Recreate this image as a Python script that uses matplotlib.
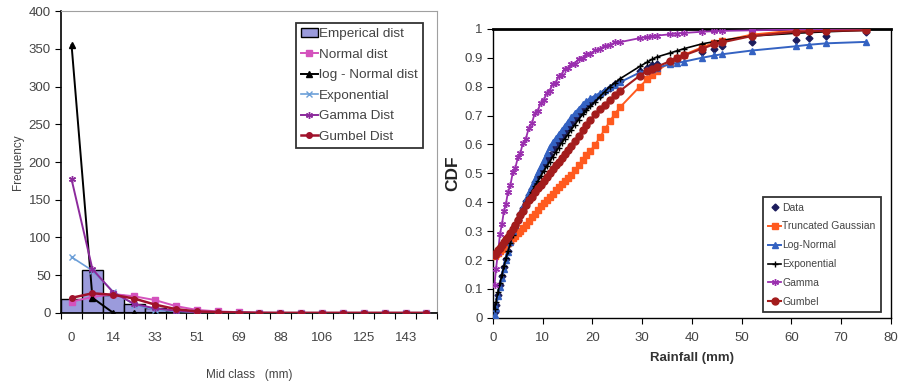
import matplotlib
matplotlib.use("Agg")
import matplotlib.pyplot as plt
from matplotlib.patches import Patch
from matplotlib.lines import Line2D
import numpy as np

plt.rcParams["font.family"] = ["Liberation Sans", "DejaVu Sans"]

# ---- frequency of rainfall classes ----
mid_labels = ["0", "14", "33", "51", "69", "88", "106", "125", "143"]
emp_freq = [19, 57, 24, 12, 6, 3, 2, 1, 1, 0, 0, 0, 0, 0, 0, 0, 0, 0]
normal_freq = [15, 21, 25, 22, 17, 9, 4, 2, 1, 0.5, 0, 0, 0, 0, 0, 0, 0, 0]
lognormal_freq = [355, 20, 0, 0, 0, 0, 0, 0, 0, 0, 0, 0, 0, 0, 0, 0, 0, 0]
expo_freq = [74, 56, 28, 11, 4, 2, 1, 0.5, 0, 0, 0, 0, 0, 0, 0, 0, 0, 0]
gamma_freq = [177, 58, 27, 12, 6, 3, 1, 0.5, 0, 0, 0, 0, 0, 0, 0, 0, 0, 0]
gumbel_freq = [20, 26, 24, 19, 11, 5, 2, 1, 0.5, 0, 0, 0, 0, 0, 0, 0, 0, 0]

# ---- cumulative distributions of rainfall ----
rain = [0.3, 0.6, 1.0, 1.4, 1.8, 2.2, 2.6, 3.0, 3.5, 4.0, 4.5, 5.0, 5.5, 6.0,
        6.6, 7.2, 7.8, 8.4, 9.0, 9.6, 10.2, 10.8, 11.4, 12.0, 12.6, 13.2, 13.8,
        14.4, 15.0, 15.7, 16.4, 17.2, 18.0, 18.8, 19.6, 20.5, 21.5, 22.5, 23.5,
        24.5, 25.5, 29.5, 31.0, 32.0, 33.0, 35.5, 37.0, 38.5, 42.0, 44.5, 46.0,
        52.0, 61.0, 63.5, 67.0, 75.0]
cdf_data = [0.02, 0.045, 0.08, 0.115, 0.145, 0.175, 0.205, 0.23, 0.26, 0.29,
            0.32, 0.34, 0.36, 0.38, 0.405, 0.425, 0.445, 0.47, 0.49, 0.51, 0.53,
            0.55, 0.565, 0.585, 0.6, 0.615, 0.63, 0.645, 0.66, 0.675, 0.69,
            0.705, 0.72, 0.735, 0.745, 0.76, 0.77, 0.785, 0.795, 0.81, 0.82,
            0.855, 0.865, 0.875, 0.88, 0.89, 0.9, 0.91, 0.92, 0.93, 0.94,
            0.955, 0.96, 0.97, 0.975, 0.99]
cdf_trunc = [0.215, 0.22, 0.226, 0.233, 0.24, 0.246, 0.253, 0.26, 0.267, 0.275,
             0.284, 0.292, 0.30, 0.31, 0.323, 0.335, 0.348, 0.36, 0.373, 0.386,
             0.398, 0.409, 0.42, 0.43, 0.441, 0.452, 0.462, 0.473, 0.484, 0.496,
             0.511, 0.528, 0.545, 0.562, 0.579, 0.598, 0.625, 0.653, 0.68,
             0.706, 0.728, 0.80, 0.825, 0.842, 0.855, 0.883, 0.90, 0.911, 0.936,
             0.952, 0.958, 0.98, 0.995, 0.996, 0.998, 1.0]
cdf_lognormal = [0.01, 0.035, 0.075, 0.108, 0.138, 0.17, 0.20, 0.229, 0.264,
                 0.30, 0.322, 0.343, 0.365, 0.387, 0.412, 0.435, 0.458, 0.481,
                 0.504, 0.526, 0.548, 0.57, 0.593, 0.609, 0.623, 0.637, 0.651,
                 0.665, 0.679, 0.695, 0.709, 0.724, 0.739, 0.752, 0.76, 0.769,
                 0.778, 0.788, 0.798, 0.807, 0.815, 0.849, 0.856, 0.861, 0.866,
                 0.877, 0.882, 0.887, 0.90, 0.908, 0.912, 0.925, 0.94, 0.945,
                 0.95, 0.955]
cdf_expo = [0.03, 0.055, 0.09, 0.12, 0.15, 0.178, 0.206, 0.23, 0.259, 0.288,
            0.313, 0.334, 0.355, 0.375, 0.40, 0.418, 0.436, 0.455, 0.473, 0.491,
            0.508, 0.524, 0.54, 0.557, 0.573, 0.589, 0.605, 0.619, 0.633, 0.65,
            0.667, 0.686, 0.704, 0.718, 0.732, 0.748, 0.766, 0.783, 0.80, 0.813,
            0.827, 0.87, 0.885, 0.895, 0.903, 0.916, 0.924, 0.932, 0.948, 0.956,
            0.96, 0.975, 0.985, 0.987, 0.99, 0.995]
cdf_gamma = [0.115, 0.17, 0.225, 0.29, 0.325, 0.37, 0.395, 0.435, 0.46, 0.505,
             0.52, 0.555, 0.57, 0.605, 0.62, 0.657, 0.673, 0.708, 0.717, 0.745,
             0.753, 0.779, 0.786, 0.81, 0.814, 0.836, 0.842, 0.862, 0.863,
             0.878, 0.88, 0.896, 0.899, 0.912, 0.914, 0.926, 0.93, 0.942,
             0.944, 0.953, 0.954, 0.968, 0.972, 0.975, 0.977, 0.981, 0.984,
             0.986, 0.99, 0.992, 0.993, 0.995, 0.998, 0.998, 0.999, 1.0]
cdf_gumbel = [0.217, 0.224, 0.234, 0.243, 0.253, 0.262, 0.272, 0.281, 0.293,
              0.306, 0.323, 0.339, 0.355, 0.371, 0.39, 0.407, 0.42, 0.434, 0.448,
              0.461, 0.475, 0.489, 0.502, 0.515, 0.528, 0.541, 0.554, 0.567,
              0.58, 0.596, 0.612, 0.63, 0.649, 0.667, 0.686, 0.705, 0.722, 0.738,
              0.755, 0.77, 0.785, 0.838, 0.854, 0.862, 0.869, 0.888, 0.90, 0.909,
              0.931, 0.947, 0.953, 0.975, 0.99, 0.991, 0.993, 0.995]

fig = plt.figure(figsize=(8.99, 3.83), dpi=100)

# ---------------- left: frequency histogram with fitted curves ----------------
ax1 = fig.add_axes([0.068, 0.183, 0.418, 0.788])
pos = np.arange(len(emp_freq))
ax1.bar(pos, emp_freq, width=1.0, color="#9b9bdc", edgecolor="black", linewidth=1.0, zorder=2)
ax1.plot(pos, normal_freq, color="#d452bd", marker="s", ms=4.5, lw=1.4, zorder=3)
ax1.plot(pos, lognormal_freq, color="black", marker="^", ms=4.5, lw=1.4, zorder=3)
ax1.plot(pos, expo_freq, color="#6c9fd8", marker="x", ms=4.5, mew=1.0, lw=1.2, zorder=3)
ax1.plot(pos, gamma_freq, color="#8c2a9c", marker=(6, 2, 0), ms=5, mew=1.0, lw=1.4, zorder=3)
ax1.plot(pos, gumbel_freq, color="#a0122c", marker="o", ms=4, lw=1.8, zorder=4)

ax1.set_xlim(-0.5, len(emp_freq) - 0.5)
ax1.set_ylim(0, 400)
ax1.set_yticks(range(0, 401, 50))
ax1.set_xticks(np.arange(len(emp_freq) + 1) - 0.5)
ax1.set_xticklabels([])
ax1.set_xticks(pos[::2], minor=True)
ax1.set_xticklabels(mid_labels, minor=True)
ax1.tick_params(axis="x", which="minor", length=0, pad=14, labelsize=9.5, labelcolor="#444444")
ax1.tick_params(axis="x", which="major", length=4, direction="out")
ax1.tick_params(axis="y", length=4, labelsize=9.5, labelcolor="#444444")
for side in ("top", "right"):
    ax1.spines[side].set_color("#a0a0a0")
ax1.spines["left"].set_linewidth(1.2)
ax1.spines["bottom"].set_linewidth(1.2)
ax1.set_ylabel("Frequency", fontsize=8.5, color="#444444", labelpad=3)
ax1.set_xlabel("Mid class   (mm)", fontsize=8.5, color="#444444", labelpad=18)

left_handles = [
    Patch(facecolor="#9b9bdc", edgecolor="black", label="Emperical dist"),
    Line2D([], [], color="#d452bd", marker="s", ms=4.5, lw=1.4, label="Normal dist"),
    Line2D([], [], color="black", marker="^", ms=4.5, lw=1.4, label="log - Normal dist"),
    Line2D([], [], color="#6c9fd8", marker="x", ms=4.5, lw=1.2, label="Exponential"),
    Line2D([], [], color="#8c2a9c", marker=(6, 2, 0), ms=5, lw=1.4, label="Gamma Dist"),
    Line2D([], [], color="#a0122c", marker="o", ms=4, lw=1.8, label="Gumbel Dist"),
]
leg1 = ax1.legend(handles=left_handles, loc="upper right", bbox_to_anchor=(0.963, 0.962),
                  fontsize=9.7, frameon=True, fancybox=False, edgecolor="black",
                  handlelength=1.2, handletextpad=0.1, labelspacing=0.6,
                  borderpad=0.4, borderaxespad=0)
leg1.get_frame().set_linewidth(1.3)
for t in leg1.get_texts():
    t.set_color("#444444")

# ---------------- right: cumulative distribution functions ----------------
ax2 = fig.add_axes([0.5484, 0.170, 0.4425, 0.7546])
ax2.plot(rain, cdf_data, color="#1c1c5c", marker="D", ms=3.5, lw=0, zorder=2)
ax2.plot(rain, cdf_trunc, color="#ff5a1f", marker="s", ms=4.5, lw=1.4, zorder=3)
ax2.plot(rain, cdf_lognormal, color="#3462c2", marker="^", ms=5, lw=1.4, zorder=4)
ax2.plot(rain, cdf_expo, color="black", marker="+", ms=5, mew=1.0, lw=1.2, zorder=5)
ax2.plot(rain, cdf_gamma, color="#9a2fae", marker=(6, 2, 0), ms=5, mew=1.0, lw=1.3, zorder=6)
ax2.plot(rain, cdf_gumbel, color="#a31c1c", marker="o", ms=5, lw=1.5, zorder=7)

ax2.set_xlim(0, 80)
ax2.set_ylim(0, 1)
ax2.set_xticks(range(0, 81, 10))
ax2.set_yticks(np.arange(0, 1.01, 0.1))
ax2.set_yticklabels(["0", "0.1", "0.2", "0.3", "0.4", "0.5", "0.6", "0.7", "0.8", "0.9", "1"])
ax2.tick_params(length=4, labelsize=9.5, labelcolor="#444444")
ax2.tick_params(axis="x", pad=6)
ax2.spines["top"].set_linewidth(2.0)
ax2.spines["left"].set_linewidth(1.0)
ax2.spines["bottom"].set_linewidth(1.0)
ax2.spines["right"].set_linewidth(1.0)
ax2.set_xlabel("Rainfall (mm)", fontsize=9.5, fontweight="bold", color="#333333", labelpad=6)
ax2.set_ylabel("CDF", fontsize=12.5, fontweight="bold", color="#222222", labelpad=3)

right_handles = [
    Line2D([], [], color="#1c1c5c", marker="D", ms=3.5, lw=0, label="Data"),
    Line2D([], [], color="#ff5a1f", marker="s", ms=4.5, lw=1.4, label="Truncated Gaussian"),
    Line2D([], [], color="#3462c2", marker="^", ms=5, lw=1.4, label="Log-Normal"),
    Line2D([], [], color="black", marker="+", ms=5, lw=1.2, label="Exponential"),
    Line2D([], [], color="#9a2fae", marker=(6, 2, 0), ms=5, lw=1.3, label="Gamma"),
    Line2D([], [], color="#a31c1c", marker="o", ms=5, lw=1.5, label="Gumbel"),
]
leg2 = ax2.legend(handles=right_handles, loc="lower right", bbox_to_anchor=(0.975, 0.02),
                  prop={"family": ["Liberation Sans Narrow", "Liberation Sans"], "size": 7.5},
                  frameon=True, fancybox=False, edgecolor="black",
                  handlelength=1.2, handletextpad=0.15, labelspacing=0.85,
                  borderpad=0.5, borderaxespad=0)
leg2.get_frame().set_linewidth(1.3)
for t in leg2.get_texts():
    t.set_color("#444444")

fig.savefig("out.png", dpi=100)
